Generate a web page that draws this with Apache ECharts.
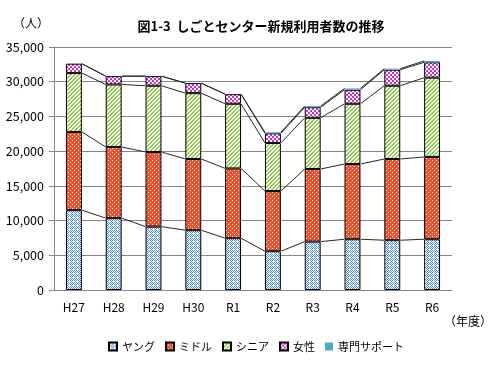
<!DOCTYPE html>
<html><head><meta charset="utf-8">
<script src="https://cdn.jsdelivr.net/npm/echarts@6/dist/echarts.min.js"></script>
<style>html,body{margin:0;padding:0;background:#fff}#c{width:490px;height:382px}</style>
</head><body><div id="c"></div>
<script>
const categories = ['H27','H28','H29','H30','R1','R2','R3','R4','R5','R6'];
const young   = [11500,10350,9130,8610,7460,5580,6970,7310,7170,7310];
const middle  = [11270,10250,10750,10260,10050,8670,10460,10840,11700,11850];
const senior  = [8470,9000,9540,9480,9310,6930,7370,8670,10550,11420];
const female  = [1360,1200,1380,1450,1380,1390,1530,2020,2310,2210];
const support = [0,0,0,0,0,150,150,200,150,200];
const yTicks = [0,5000,10000,15000,20000,25000,30000,35000];

function pattern(fg, fn, n) {
  n = n || 4;
  const cv = document.createElement('canvas');
  cv.width = n; cv.height = n;
  const ctx = cv.getContext('2d');
  ctx.fillStyle = '#fff'; ctx.fillRect(0,0,n,n);
  ctx.fillStyle = fg;
  for (let y=0;y<n;y++) for (let x=0;x<n;x++) if (fn(x,y)) ctx.fillRect(x,y,1,1);
  return {image: cv, repeat: 'repeat'};
}
const pYoung  = pattern('#4a8ee6', (x,y)=> (x+y)%2===0 && !(x===1&&y===1));
const pMiddle = pattern('#f0502a', (x,y)=> !((x===0&&y===0)||(x===2&&y===2)));
const pSenior = pattern('#8fcb48', (x,y)=> ((x+y)%4===0||(x+y)%4===1));
const pFemale = pattern('#c633c6', (x,y)=> ((Math.floor(x/2)+Math.floor(y/2))%2===0));

const seriesList = [young, middle, senior, female, support];
const cum = [];
let run = categories.map(()=>0);
seriesList.forEach(s=>{ run = run.map((v,i)=>v+s[i]); cum.push(run.slice()); });

const chart = echarts.init(document.getElementById('c'));
const font = "'Noto Sans CJK JP', sans-serif";
function bar(name, data, color, border) {
  return {
    name, type:'bar', stack:'a', data, barWidth:'40%',
    itemStyle:{color, borderColor:'#000', borderWidth: border},
    emphasis:{disabled:true}
  };
}
chart.setOption({
  animation:false,
  textStyle:{fontFamily:font},
  title:{text:'図1-3  しごとセンター新規利用者数の推移', left:256, top:15, textAlign:'center',
    textStyle:{fontSize:13, fontWeight:'bold', color:'#000', fontFamily:font}},
  graphic:[
    {type:'text', left:13, top:17, style:{text:'（人）', font:"12px "+font, fill:'#000'}},
    {type:'text', left:444, top:315, style:{text:'（年度）', font:"12px "+font, fill:'#000'}}
  ],
  legend:{
    data:['ヤング','ミドル','シニア','女性','専門サポート'],
    bottom:25, left:103, itemWidth:8, itemHeight:8, itemGap:10, icon:'rect',
    textStyle:{fontSize:11, color:'#000', fontFamily:font}
  },
  grid:{left:54, right:38, top:47, bottom:92, containLabel:false},
  xAxis:{
    type:'category', data:categories,
    axisLine:{lineStyle:{color:'#868686'}},
    axisTick:{show:false},
    axisLabel:{color:'#000', fontSize:12, margin:11, fontFamily:font}
  },
  yAxis:{
    type:'value', min:0, max:35000, interval:5000,
    axisLine:{show:true, lineStyle:{color:'#868686'}},
    axisTick:{show:true, length:5, lineStyle:{color:'#868686'}},
    splitLine:{lineStyle:{color:'#868686'}},
    axisLabel:{color:'#000', fontSize:12.5, margin:10, fontFamily:font,
      formatter:v=>v.toLocaleString('en-US')}
  },
  series:[
    bar('ヤング', young, pYoung, 1),
    bar('ミドル', middle, pMiddle, 1),
    bar('シニア', senior, pSenior, 1),
    bar('女性', female, pFemale, 1),
    bar('専門サポート', support, '#4bacc6', 0),
    {
      type:'custom', silent:true, z:3,
      data: categories.slice(0,-1).map((c,i)=>[i,0]),
      encode:{x:0,y:1},
      renderItem:(params, api)=>{
        const i = params.dataIndex;
        const half = api.size([1,0])[0]*0.2;
        const children = [];
        cum.forEach(c=>{
          const p1 = api.coord([i, c[i]]);
          const p2 = api.coord([i+1, c[i+1]]);
          children.push({type:'line', shape:{x1:p1[0]+half, y1:p1[1], x2:p2[0]-half, y2:p2[1]},
            style:{stroke:'#262626', lineWidth:1}});
        });
        return {type:'group', children};
      }
    }
  ]
});
</script></body></html>
